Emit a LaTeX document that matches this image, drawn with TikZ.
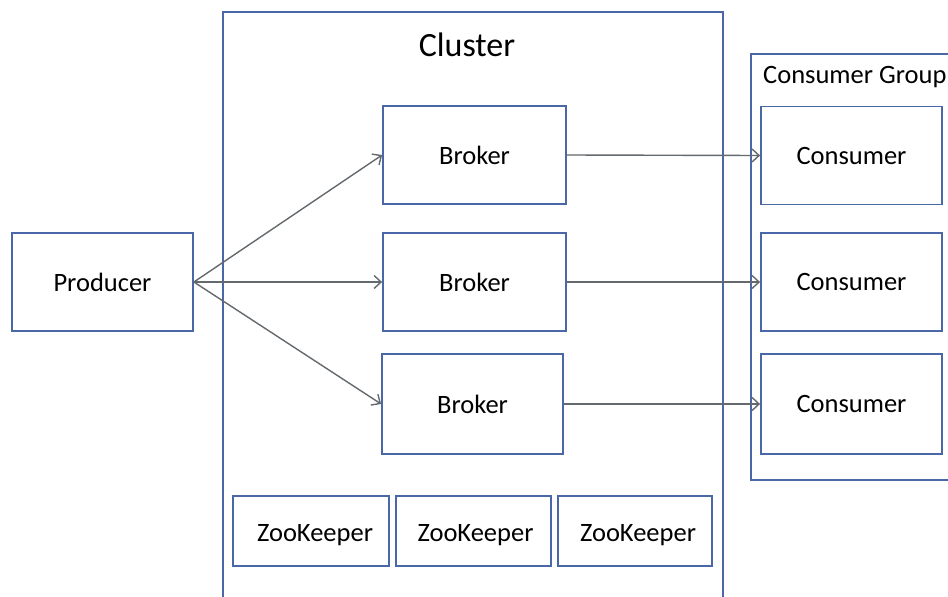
\documentclass[tikz,border=0pt]{standalone}
\usepackage{fontspec}
\setmainfont{Carlito}
\usetikzlibrary{arrows.meta}
\definecolor{boxblue}{HTML}{4A68A8}
\definecolor{arrowgray}{HTML}{64696E}
\tikzset{
  box/.style={draw=boxblue, line width=1.8pt, rectangle, inner sep=0pt,
    font=\fontsize{26.5}{31}\selectfont},
  label/.style={font=\fontsize{26.5}{31}\selectfont},
  flow/.style={draw=arrowgray, line width=1.4pt,
    -{Straight Barb[length=7pt,width=13pt,line width=1.4pt]}},
}
\begin{document}
\begin{tikzpicture}[x=1pt,y=-1pt]
\useasboundingbox (0,0) rectangle (948,597);
\fill[white] (0,0) rectangle (948,597);
\clip (0,0) rectangle (948,597);

% cluster and consumer group frames (both run past the edges)
\node[box, minimum width=500pt, minimum height=620pt, anchor=north west] (cluster) at (222,11) {};
\node[font=\fontsize{34}{40}\selectfont] (clustertitle) at (467,45) {Cluster};
\node[box, minimum width=230pt, minimum height=426pt, anchor=north west] (group) at (750,53) {};
\node[label, anchor=west, inner sep=0pt] (grouptitle) at (763,77) {Consumer Group};

% producer
\node[box, minimum width=181pt, minimum height=98pt] (prod) at (102.5,282) {Producer};

% brokers
\node[box, minimum width=183pt, minimum height=98pt] (b1) at (474.5,155) {Broker};
\node[box, minimum width=183pt, minimum height=98pt] (b2) at (474.5,282) {Broker};
\node[box, minimum width=181pt, minimum height=100pt] (b3) at (472.5,404) {Broker};

% consumers
\node[box, minimum width=181pt, minimum height=98pt] (c1) at (851.5,155.5) {Consumer};
\node[box, minimum width=181pt, minimum height=98pt] (c2) at (851.5,282) {Consumer};
\node[box, minimum width=181pt, minimum height=100pt] (c3) at (851.5,404) {Consumer};

% zookeeper ensemble
\node[box, minimum width=156pt, minimum height=70pt] (z1) at (311,531) {};
\node[box, minimum width=155pt, minimum height=70pt] (z2) at (473.5,531) {};
\node[box, minimum width=154pt, minimum height=70pt] (z3) at (635,531) {};
\node[label] (z1t) at ([xshift=4pt,yshift=-4pt]z1.center) {ZooKeeper};
\node[label] (z2t) at ([xshift=2pt,yshift=-4pt]z2.center) {ZooKeeper};
\node[label] (z3t) at ([xshift=3pt,yshift=-4pt]z3.center) {ZooKeeper};

% producer fans out to the brokers
\coordinate (pout) at (prod.east);
\draw[flow] (pout) -- (b1.west);
\draw[flow] (pout) -- (b2.west);
\draw[flow] (pout) -- (b3.west);

% brokers feed the consumers
\draw[flow] (b1.east) -- (c1.west);
\draw[flow] (b2.east) -- (c2.west);
\draw[flow] (b3.east) -- (c3.west);
\end{tikzpicture}
\end{document}
